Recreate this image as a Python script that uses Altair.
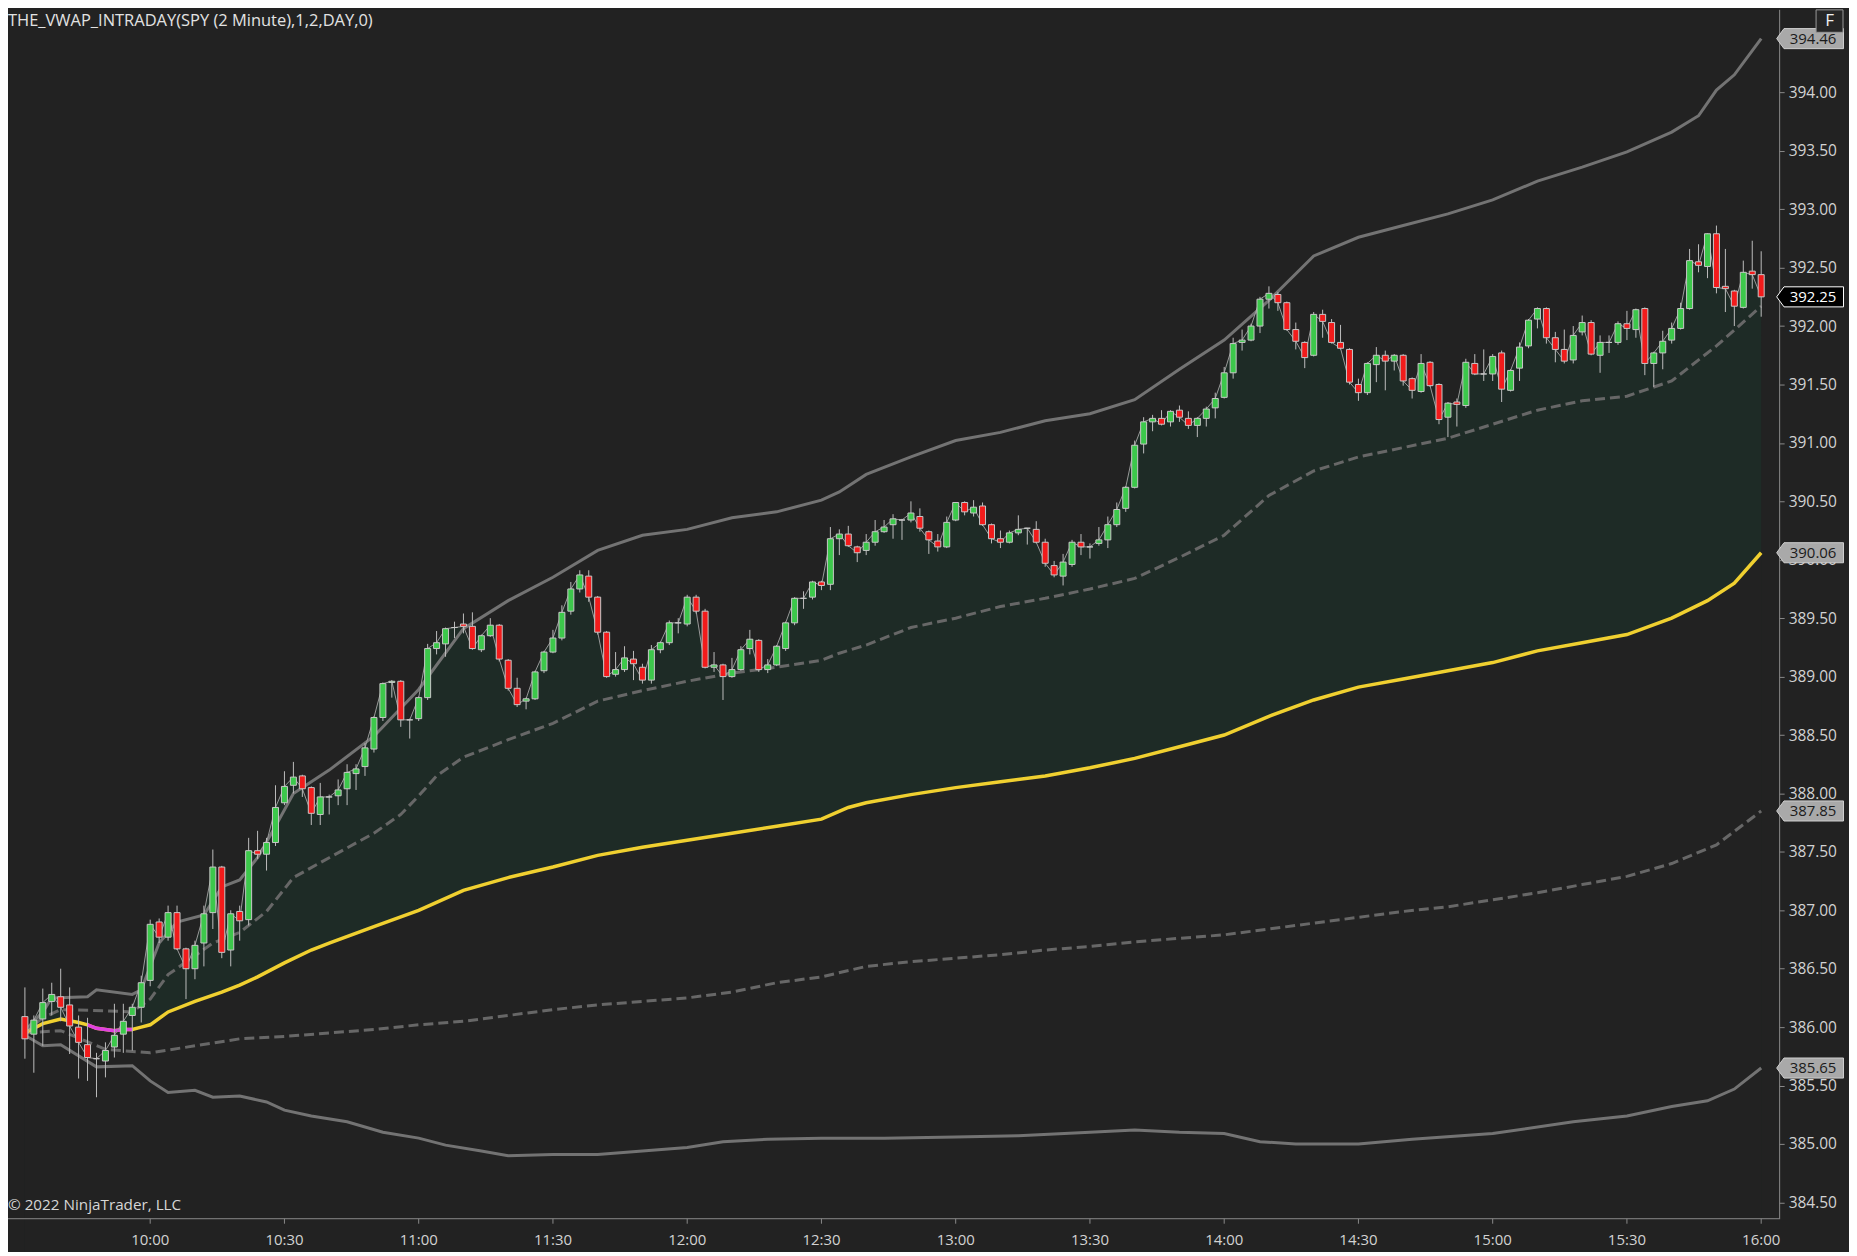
import altair as alt
import pandas as pd

# ---------------- data ----------------
opens = [386.09,385.94,386.07,386.22,386.26,386.19,386.00,385.85,385.73,385.71,
         385.83,385.94,386.10,386.17,386.40,386.90,386.77,386.98,386.67,386.50,
         386.72,386.98,387.37,386.66,386.99,386.92,387.51,387.48,387.58,387.92,
         388.07,388.15,388.05,387.82,387.97,387.98,388.04,388.17,388.23,388.38,
         388.65,388.95,388.96,388.63,388.64,388.82,389.24,389.28,389.42,389.45,
         389.43,389.23,389.35,389.44,389.14,388.90,388.79,388.81,389.05,389.21,
         389.33,389.56,389.75,389.86,389.68,389.38,389.02,389.06,389.15,389.08,
         388.97,389.23,389.29,389.46,389.45,389.68,389.56,389.08,389.10,389.00,
         389.06,389.24,389.31,389.06,389.10,389.24,389.46,389.67,389.68,389.81,
         389.79,390.18,390.22,390.11,390.08,390.15,390.24,390.30,390.34,390.34,
         390.37,390.24,390.16,390.11,390.34,390.49,390.40,390.46,390.30,390.18,
         390.15,390.23,390.27,390.26,390.15,389.95,389.86,389.96,390.15,390.11,
         390.14,390.17,390.30,390.44,390.62,390.99,391.18,391.21,391.18,391.28,
         391.21,391.15,391.21,391.30,391.39,391.60,391.86,391.88,392.00,392.23,
         392.27,392.20,391.97,391.86,391.75,392.10,392.03,391.86,391.80,391.50,
         391.43,391.67,391.75,391.70,391.75,391.55,391.44,391.69,391.50,391.22,
         391.35,391.32,391.68,391.59,391.59,391.77,391.45,391.64,391.83,392.06,
         392.15,391.90,391.80,391.71,391.95,392.03,391.75,391.86,391.86,392.02,
         391.97,392.15,391.68,391.77,391.88,391.98,392.15,392.55,392.51,392.79,
         392.34,392.30,392.16,392.47,392.44]
highs = [386.34,386.10,386.33,386.38,386.50,386.34,386.10,386.08,385.78,385.87,
         386.20,386.20,386.20,386.44,386.92,386.93,387.04,387.04,386.68,386.74,
         387.04,387.52,387.38,387.00,387.04,387.62,387.68,387.62,388.07,388.19,
         388.27,388.16,388.06,388.09,387.99,388.12,388.25,388.25,388.43,388.66,
         388.95,388.97,388.97,388.64,388.83,389.28,389.39,389.42,389.47,389.54,
         389.55,389.36,389.50,389.45,389.15,388.99,388.82,389.05,389.22,389.40,
         389.61,389.81,389.91,389.91,389.69,389.39,389.21,389.26,389.22,389.11,
         389.27,389.30,389.48,389.50,389.70,389.70,389.58,389.21,389.11,389.16,
         389.26,389.40,389.32,389.15,389.27,389.47,389.68,389.73,389.82,389.82,
         390.28,390.26,390.29,390.12,390.22,390.34,390.34,390.39,390.35,390.50,
         390.44,390.25,390.22,390.37,390.49,390.50,390.51,390.49,390.31,390.25,
         390.25,390.38,390.27,390.33,390.18,389.99,390.05,390.17,390.22,390.14,
         390.28,390.37,390.49,390.63,391.02,391.22,391.24,391.28,391.28,391.32,
         391.27,391.22,391.31,391.43,391.65,391.90,391.97,392.02,392.25,392.34,
         392.29,392.21,392.03,391.87,392.12,392.14,392.06,392.01,391.81,391.55,
         391.69,391.82,391.79,391.76,391.76,391.56,391.76,391.70,391.51,391.35,
         391.38,391.72,391.76,391.80,391.76,391.79,391.63,391.86,392.06,392.16,
         392.16,391.95,391.97,392.00,392.09,392.05,391.92,391.92,392.04,392.13,
         392.15,392.16,391.78,391.96,392.03,392.20,392.66,392.70,392.79,392.86,
         392.66,392.31,392.56,392.73,392.64]
lows = [385.73,385.61,385.84,386.10,386.05,385.77,385.56,385.54,385.40,385.57,
        385.74,385.78,385.80,386.04,386.35,386.72,386.74,386.66,386.24,386.41,
        386.52,386.84,386.59,386.52,386.74,386.87,387.44,387.34,387.55,387.90,
        388.00,387.97,387.73,387.73,387.82,387.90,387.90,388.03,388.15,388.35,
        388.62,388.82,388.57,388.47,388.62,388.80,389.19,389.17,389.33,389.37,
        389.23,389.21,389.34,389.13,388.88,388.74,388.72,388.80,389.03,389.20,
        389.31,389.53,389.72,389.64,389.36,388.99,389.00,389.04,388.97,388.94,
        388.94,389.20,389.27,389.37,389.43,389.54,389.07,389.04,388.80,388.99,
        389.05,389.19,389.04,389.03,389.09,389.22,389.44,389.58,389.66,389.74,
        389.74,390.04,390.11,389.98,390.04,390.12,390.23,390.18,390.17,390.32,
        390.24,390.05,390.07,390.10,390.33,390.38,390.37,390.29,390.14,390.10,
        390.14,390.21,390.13,390.14,389.94,389.85,389.78,389.94,390.04,390.01,
        390.12,390.10,390.28,390.41,390.61,390.91,391.10,391.15,391.14,391.18,
        391.12,391.05,391.14,391.21,391.38,391.55,391.79,391.87,391.94,392.15,
        392.13,391.96,391.80,391.64,391.74,391.90,391.85,391.80,391.50,391.36,
        391.41,391.52,391.45,391.62,391.49,391.38,391.43,391.48,391.16,391.05,
        391.14,391.30,391.58,391.53,391.53,391.35,391.44,391.53,391.81,391.98,
        391.85,391.69,391.68,391.68,391.92,391.75,391.60,391.77,391.84,391.88,
        391.90,391.58,391.48,391.63,391.85,391.97,392.14,392.46,392.41,392.28,
        392.12,392.00,392.15,392.32,392.08]
closes = [385.90,386.06,386.21,386.28,386.17,386.01,385.87,385.74,385.73,385.80,
          385.93,386.05,386.17,386.38,386.88,386.77,386.98,386.67,386.50,386.70,
          386.97,387.37,386.64,386.97,386.91,387.51,387.48,387.58,387.88,388.06,
          388.14,388.04,387.83,387.97,387.97,388.03,388.18,388.21,388.39,388.65,
          388.94,388.96,388.63,388.63,388.82,389.24,389.29,389.41,389.42,389.43,
          389.24,389.35,389.44,389.15,388.90,388.76,388.81,389.04,389.21,389.33,
          389.55,389.75,389.87,389.68,389.38,389.00,389.06,389.16,389.11,388.97,
          389.23,389.29,389.46,389.46,389.68,389.56,389.08,389.10,389.00,389.06,
          389.23,389.32,389.06,389.10,389.26,389.46,389.67,389.67,389.81,389.78,
          390.18,390.22,390.12,390.06,390.15,390.24,390.28,390.35,390.34,390.40,
          390.27,390.17,390.11,390.32,390.49,390.41,390.45,390.30,390.18,390.15,
          390.23,390.26,390.27,390.15,389.97,389.87,389.98,390.15,390.11,390.11,
          390.17,390.30,390.43,390.62,390.98,391.18,391.21,391.16,391.27,391.22,
          391.15,391.21,391.29,391.38,391.60,391.85,391.88,392.00,392.23,392.28,
          392.20,391.97,391.87,391.73,392.10,392.04,391.86,391.81,391.52,391.43,
          391.68,391.75,391.70,391.75,391.53,391.45,391.68,391.49,391.20,391.34,
          391.33,391.69,391.59,391.59,391.74,391.46,391.62,391.82,392.05,392.15,
          391.90,391.80,391.70,391.92,392.03,391.76,391.86,391.86,392.02,391.98,
          392.14,391.68,391.77,391.87,391.98,392.15,392.56,392.52,392.79,392.33,
          392.32,392.17,392.46,392.44,392.25]

bar_index = list(range(len(closes)))
# bar end times of the 2-minute bars, 09:32 ... 16:00
time_labels = ["%d:%02d" % ((572 + 2 * i) // 60, (572 + 2 * i) % 60) for i in bar_index]

vwap_idx = [0, 2, 4, 6, 7, 8, 10, 11, 12, 13, 14, 16, 19, 22, 24, 26, 29, 32, 34, 39, 44, 49, 54,
            59, 64, 69, 74, 79, 84, 89, 92, 94, 99, 104, 109, 114, 119, 124, 129, 134, 139,
            144, 149, 154, 159, 164, 169, 174, 179, 184, 188, 191, 194]
vwap_val = [385.95, 386.03, 386.07, 386.04, 386.02, 385.99, 385.97, 385.98, 385.98, 386.00,
            386.02, 386.13, 386.22, 386.30, 386.36, 386.43, 386.55, 386.66, 386.72, 386.86,
            387.00, 387.17, 387.28, 387.37, 387.47, 387.54, 387.60, 387.66, 387.72, 387.78,
            387.88, 387.92, 387.99, 388.05, 388.10, 388.15, 388.22, 388.30, 388.40, 388.50,
            388.66, 388.80, 388.91, 388.98, 389.05, 389.12, 389.22, 389.29, 389.36, 389.50,
            389.65, 389.80, 390.06]
vwap_down_idx = [7, 8, 10, 11, 12]
vwap_down_val = [386.02, 385.99, 385.97, 385.98, 385.98]

up2_idx = [0, 2, 3, 7, 8, 12, 13, 15, 17, 20, 22, 24, 26, 28, 30, 34, 39, 44, 49, 54, 59, 64,
           69, 74, 79, 84, 89, 91, 94, 99, 104, 109, 114, 119, 124, 129, 134, 139, 144, 149,
           154, 159, 164, 169, 174, 179, 184, 187, 189, 191, 194]
up2_val = [385.97, 386.13, 386.25, 386.26, 386.32, 386.28, 386.32, 386.72, 386.90, 386.96,
           387.20, 387.26, 387.45, 387.72, 388.00, 388.20, 388.49, 388.89, 389.41, 389.65,
           389.85, 390.08, 390.21, 390.26, 390.36, 390.41, 390.51, 390.58, 390.73, 390.88,
           391.02, 391.09, 391.19, 391.25, 391.37, 391.63, 391.88, 392.22, 392.60, 392.76,
           392.86, 392.96, 393.08, 393.24, 393.36, 393.49, 393.66, 393.80, 394.02, 394.15,
           394.46]

up1_idx = [0, 2, 4, 9, 12, 14, 16, 19, 21, 24, 27, 30, 34, 39, 42, 44, 46, 49, 54, 59, 64, 69,
           74, 79, 84, 89, 91, 94, 99, 104, 109, 114, 119, 124, 129, 134, 139, 144, 149, 154,
           159, 164, 169, 174, 179, 184, 189, 194]
up1_val = [385.96, 386.08, 386.15, 386.14, 386.13, 386.24, 386.45, 386.61, 386.72, 386.81,
           386.99, 387.28, 387.45, 387.66, 387.82, 387.98, 388.15, 388.31, 388.46, 388.60,
           388.79, 388.88, 388.96, 389.03, 389.08, 389.14, 389.20, 389.27, 389.42, 389.50,
           389.60, 389.67, 389.75, 389.84, 390.02, 390.21, 390.55, 390.76, 390.88, 390.96,
           391.04, 391.16, 391.28, 391.36, 391.40, 391.53, 391.83, 392.17]

lo1_idx = [0, 4, 9, 14, 19, 24, 29, 34, 39, 44, 49, 54, 59, 64, 69, 74, 79, 84, 89, 94, 99,
           104, 109, 114, 119, 124, 129, 134, 139, 144, 149, 154, 159, 164, 169, 174, 179,
           184, 189, 194]
lo1_val = [385.95, 385.97, 385.81, 385.78, 385.84, 385.90, 385.92, 385.95, 385.98, 386.02,
           386.05, 386.10, 386.15, 386.19, 386.22, 386.25, 386.30, 386.38, 386.43, 386.52,
           386.56, 386.59, 386.62, 386.66, 386.69, 386.73, 386.76, 386.79, 386.84, 386.89,
           386.94, 386.99, 387.03, 387.09, 387.15, 387.22, 387.29, 387.40, 387.56, 387.85]

lo2_idx = [0, 2, 4, 8, 12, 14, 16, 19, 21, 24, 27, 29, 32, 36, 40, 44, 47, 51, 54, 59, 64, 69,
           74, 78, 83, 89, 96, 104, 111, 119, 124, 129, 134, 138, 142, 149, 155, 164, 173,
           179, 184, 188, 191, 194]
lo2_val = [385.93, 385.84, 385.85, 385.66, 385.67, 385.54, 385.44, 385.46, 385.40, 385.41,
           385.36, 385.29, 385.24, 385.19, 385.10, 385.05, 384.99, 384.94, 384.90, 384.91,
           384.91, 384.94, 384.97, 385.02, 385.04, 385.05, 385.05, 385.06, 385.07, 385.10,
           385.12, 385.10, 385.09, 385.02, 385.00, 385.00, 385.04, 385.09, 385.19, 385.24,
           385.32, 385.37, 385.47, 385.65]

tick_prices = [384.5 + 0.5 * k for k in range(20)]
x_tick_bars = list(range(14, 195, 15))          # 10:00, 10:30, ... 16:00
x_tick_labels = [time_labels[i] for i in x_tick_bars]

marker_prices = [394.46, 392.25, 390.06, 387.85, 385.65]
marker_bg = ["#a9a9a9", "#000000", "#a9a9a9", "#a9a9a9", "#a9a9a9"]
marker_border = ["#cfcfcf", "#ffffff", "#cfcfcf", "#cfcfcf", "#cfcfcf"]
marker_fg = ["#1b1b1b", "#ffffff", "#1b1b1b", "#1b1b1b", "#1b1b1b"]

TITLE = "THE_VWAP_INTRADAY(SPY (2 Minute),1,2,DAY,0)"
COPYRIGHT = "\u00a9 2022 NinjaTrader, LLC"

# ---------------- style ----------------
W, H = 1775, 1212
BG = "#222222"
FILL = "#1e2b26"
GREEN = "#3cc84b"
RED = "#f21b1b"
FLAT = "#b5b5b5"
OUTLINE = "#c8c8c8"
WICK = "#bdbdbd"
BAND_SOLID = "#737373"
BAND_DASH = "#676767"
YELLOW = "#f0d030"
MAGENTA = "#e040e0"
AXIS_C = "#8a8a8a"
TEXT_C = "#d2d2d2"
FONT = "Open Sans"

xs = alt.Scale(domain=[-1.33, 195.45], nice=False, zero=False)
ys = alt.Scale(domain=[384.3604, 394.7105], nice=False, zero=False)

y_axis = alt.Axis(values=tick_prices, format=".2f", title=None, grid=False, orient="right",
                  labelColor=TEXT_C, labelFont=FONT, labelFontSize=15.5, tickColor=AXIS_C,
                  domainColor=AXIS_C, tickSize=5, labelPadding=4, labelOverlap=False,
                  labelFlush=False)

bars = pd.DataFrame({"i": bar_index, "time": time_labels, "open": opens, "high": highs,
                     "low": lows, "close": closes})
bars["dir"] = ["up" if c > o else ("down" if c < o else "flat") for o, c in zip(opens, closes)]


def series(idx, vals):
    return pd.DataFrame({"i": idx, "v": vals})


X = alt.X("i:Q", scale=xs, axis=None)


def Yf(field):
    return alt.Y(field, scale=ys, axis=y_axis)


fill_close = alt.Chart(bars).mark_area(color=FILL).encode(x=X, y=Yf("close:Q"), y2=alt.value(H))
mask = alt.Chart(series(vwap_idx, vwap_val)).mark_area(color=BG).encode(
    x=X, y=Yf("v:Q"), y2=alt.value(H))


def band(idx, vals, color, dash=None, width=3):
    kw = dict(color=color, strokeWidth=width)
    if dash:
        kw["strokeDash"] = dash
    return alt.Chart(series(idx, vals)).mark_line(**kw).encode(x=X, y=Yf("v:Q"))


up2 = band(up2_idx, up2_val, BAND_SOLID)
up1 = band(up1_idx, up1_val, BAND_DASH, [10, 5])
lo1 = band(lo1_idx, lo1_val, BAND_DASH, [10, 5])
lo2 = band(lo2_idx, lo2_val, BAND_SOLID)
vwap = band(vwap_idx, vwap_val, YELLOW, width=3.5)
vwap_down = band(vwap_down_idx, vwap_down_val, MAGENTA, width=3.5)

close_line = alt.Chart(bars).mark_line(color="#9a9a9a", strokeWidth=1).encode(
    x=X, y=Yf("close:Q"))
wicks = alt.Chart(bars).mark_rule(color=WICK, strokeWidth=1).encode(
    x=X, y=Yf("low:Q"), y2="high:Q")
bodies = alt.Chart(bars).mark_bar(size=6, stroke=OUTLINE, strokeWidth=1).encode(
    x=X, y=Yf("open:Q"), y2="close:Q",
    fill=alt.Fill("dir:N", scale=alt.Scale(domain=["up", "down", "flat"],
                                            range=[GREEN, RED, FLAT]), legend=None))

# time axis (bottom): domain line, ticks and labels
xticks_df = pd.DataFrame({"i": x_tick_bars, "lab": x_tick_labels})
x_domain = alt.Chart(pd.DataFrame({"a": [0]})).mark_rule(color=AXIS_C, strokeWidth=1).encode(
    x=alt.value(0), x2=alt.value(W), y=alt.value(H))
x_ticks = alt.Chart(xticks_df).mark_rule(color=AXIS_C, strokeWidth=1).encode(
    x=X, y=alt.value(H), y2=alt.value(H + 5))
x_labels = alt.Chart(xticks_df).mark_text(baseline="middle", align="center", fontSize=15,
                                           font=FONT, color=TEXT_C).encode(
    x=X, y=alt.value(H + 21), text="lab:N")

markers_df = pd.DataFrame({"p": marker_prices, "bg": marker_bg, "bd": marker_border,
                           "fg": marker_fg})
TAG = "M -1 0 L -0.78 -0.3 L 1 -0.3 L 1 0.3 L -0.78 0.3 Z"
tags = alt.Chart(markers_df).mark_point(shape=TAG, size=4489, filled=True, opacity=1,
                                         strokeWidth=1).encode(
    x=alt.value(W + 31), y=Yf("p:Q"),
    fill=alt.Fill("bg:N", scale=None), stroke=alt.Stroke("bd:N", scale=None))
tag_text = alt.Chart(markers_df).mark_text(align="center", baseline="middle", fontSize=15,
                                            font=FONT).encode(
    x=alt.value(W + 34), y=Yf("p:Q"), text=alt.Text("p:Q", format=".2f"),
    color=alt.Color("fg:N", scale=None))

title_txt = alt.Chart(pd.DataFrame({"t": [TITLE]})).mark_text(
    align="left", baseline="middle", fontSize=16.5, font=FONT, color="#e2e2e2").encode(
    x=alt.value(0), y=alt.value(12), text="t:N")
copy_txt = alt.Chart(pd.DataFrame({"t": [COPYRIGHT]})).mark_text(
    align="left", baseline="middle", fontSize=15.3, font=FONT, color="#d6d6d6").encode(
    x=alt.value(0), y=alt.value(1198), text="t:N")
fbox = alt.Chart(pd.DataFrame({"t": ["F"]})).mark_rect(
    fill="#262626", stroke="#9a9a9a", strokeWidth=1).encode(
    x=alt.value(1812), x2=alt.value(1839), y=alt.value(0.5), y2=alt.value(23))
ftxt = alt.Chart(pd.DataFrame({"t": ["F"]})).mark_text(
    align="center", baseline="middle", fontSize=17, font=FONT, color="#f0f0f0").encode(
    x=alt.value(1825.5), y=alt.value(12), text="t:N")

chart = alt.layer(
    fill_close, mask, up2, up1, lo1, lo2, vwap, vwap_down, close_line, wicks, bodies,
    x_domain, x_ticks, x_labels, tags, tag_text, title_txt, copy_txt, fbox, ftxt
).properties(
    width=W, height=H, background=BG,
    padding={"left": 0, "top": 0, "right": 70, "bottom": 32},
    autosize=alt.AutoSizeParams(type="none")
).configure_view(strokeWidth=0)

chart.save("out.html", embed_options={"renderer": "svg", "actions": False})
